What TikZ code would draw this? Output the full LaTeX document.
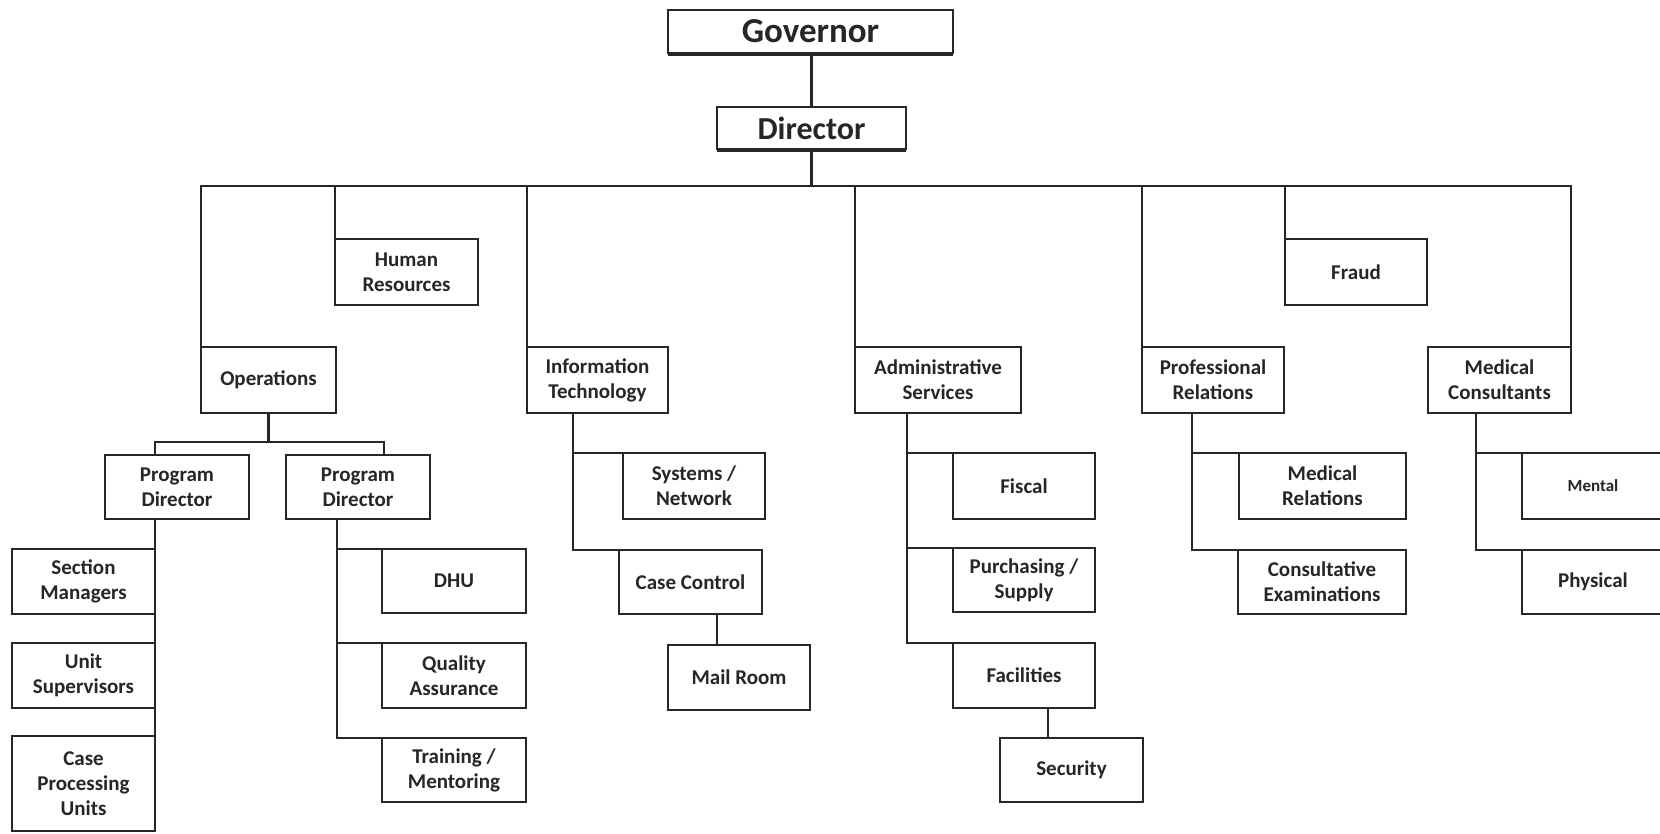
\documentclass[tikz,border=0pt]{standalone}
\usepackage{fontspec}
\setmainfont{Carlito}
\begin{document}
\begin{tikzpicture}[x=1pt,y=-1pt,
  box/.style={draw=black!85,line width=2.8pt,fill=white,inner sep=0pt,outer sep=0pt,align=center,
    font=\bfseries\fontsize{21}{25}\selectfont,text=black!85},
  bigbox/.style={box,font=\bfseries\fontsize{35}{40}\selectfont},
  smallbox/.style={box,font=\bfseries\fontsize{17}{21}\selectfont},
  conn/.style={draw=black!85,line width=2.6pt},
  shade/.style={draw=black!85,line width=3.2pt}]
\useasboundingbox (0,0) rectangle (1660,833);
\clip (0,0) rectangle (1660,833);
% top
\node[bigbox,minimum width=285pt,minimum height=43pt] (gov) at (810.5,31.5) {Governor};
\node[bigbox,minimum width=189pt,minimum height=42pt,font=\bfseries\fontsize{32}{38}\selectfont] (dir) at (811.5,128) {Director};
\draw[shade] ([yshift=-1.5pt]gov.south west) -- ([yshift=-1.5pt]gov.south east);
\draw[shade] ([yshift=-1.5pt]dir.south west) -- ([yshift=-1.5pt]dir.south east);
% second level
\node[box,minimum width=143pt,minimum height=66pt] (hr) at (406.5,272) {Human\\Resources};
\node[box,minimum width=135pt,minimum height=66pt] (ops) at (268.5,380) {Operations};
\node[box,minimum width=141pt,minimum height=66pt] (it) at (597.5,380) {Information\\Technology};
\node[box,minimum width=166pt,minimum height=66pt] (adm) at (938,380) {Administrative\\Services};
\node[box,minimum width=142pt,minimum height=66pt] (pr) at (1213,380) {Professional\\Relations};
\node[box,minimum width=142pt,minimum height=66pt] (fraud) at (1356,272) {Fraud};
\node[box,minimum width=143pt,minimum height=66pt] (mc) at (1499.5,380) {Medical\\Consultants};
% operations
\node[box,minimum width=144pt,minimum height=64pt] (pd1) at (177,487) {Program\\Director};
\node[box,minimum width=144pt,minimum height=64pt] (pd2) at (358,487) {Program\\Director};
\node[box,minimum width=143pt,minimum height=65pt] (sm) at (83.5,581.5) {Section\\Managers};
\node[box,minimum width=143pt,minimum height=65pt] (us) at (83.5,675.5) {Unit\\Supervisors};
\node[box,minimum width=143pt,minimum height=95pt] (cpu) at (83.5,783.5) {Case\\Processing\\Units};
\node[box,minimum width=144pt,minimum height=64pt] (dhu) at (454,581) {DHU};
\node[box,minimum width=144pt,minimum height=65pt] (qa) at (454,675.5) {Quality\\Assurance};
\node[box,minimum width=144pt,minimum height=64pt] (tm) at (454,770) {Training /\\Mentoring};
% IT
\node[box,minimum width=142pt,minimum height=66pt] (sn) at (694,486) {Systems /\\Network};
\node[box,minimum width=143pt,minimum height=64pt] (cc) at (690.5,582) {Case Control};
\node[box,minimum width=142pt,minimum height=65pt] (mr) at (739,677.5) {Mail Room};
% admin
\node[box,minimum width=142pt,minimum height=66pt] (fis) at (1024,486) {Fiscal};
\node[box,minimum width=142pt,minimum height=64pt] (pur) at (1024,580) {Purchasing /\\Supply};
\node[box,minimum width=142pt,minimum height=65pt] (fac) at (1024,675.5) {Facilities};
\node[box,minimum width=143pt,minimum height=64pt] (sec) at (1071.5,770) {Security};
% professional relations
\node[box,minimum width=167pt,minimum height=66pt] (medrel) at (1322.5,486) {Medical\\Relations};
\node[box,minimum width=168pt,minimum height=64pt] (ce) at (1322,582) {Consultative\\Examinations};
% medical consultants
\node[smallbox,minimum width=142pt,minimum height=66pt] (mental) at (1593,486) {Mental};
\node[box,minimum width=142pt,minimum height=64pt] (phys) at (1593,582) {Physical};
% connector points
\coordinate (bus) at (811.5,186);
\coordinate (opsbar) at (268.5,442);
\coordinate (pd1in) at (155,455);
\coordinate (pd2in) at (384,455);
\coordinate (pd1s) at (155,519);
\coordinate (pd2s) at (337,519);
\coordinate (its) at (573,413);
\coordinate (ccs) at (717,614);
\coordinate (adms) at (907,413);
\coordinate (facs) at (1048,708);
\coordinate (prs) at (1192,413);
\coordinate (mcs) at (1476,413);
% connectors
\draw[conn] (gov.south) -- (dir.south |- gov.south) -- (dir.north);
\draw[conn] (dir.south) -- (bus);
\draw[conn] (ops.north west) |- (bus) -| (mc.north east);
\draw[conn] (hr.north west) -- (hr.north west |- bus);
\draw[conn] (it.north west) -- (it.north west |- bus);
\draw[conn] (adm.north west) -- (adm.north west |- bus);
\draw[conn] (pr.north west) -- (pr.north west |- bus);
\draw[conn] (fraud.north west) -- (fraud.north west |- bus);
\draw[conn] (ops.south) -- (opsbar);
\draw[conn] (pd1in) |- (opsbar) -| (pd2in);
\draw[conn] (pd1s) -- (cpu.north east);
\draw[conn] (pd2s) |- (tm.north west);
\draw[conn] (pd2s |- dhu.north west) -- (dhu.north west);
\draw[conn] (pd2s |- qa.north west) -- (qa.north west);
\draw[conn] (its) |- (cc.north west);
\draw[conn] (its |- sn.north west) -- (sn.north west);
\draw[conn] (ccs) -- (ccs |- mr.north);
\draw[conn] (adms) |- (fac.north west);
\draw[conn] (adms |- fis.north west) -- (fis.north west);
\draw[conn] (adms |- pur.north west) -- (pur.north west);
\draw[conn] (facs) -- (facs |- sec.north);
\draw[conn] (prs) |- (ce.north west);
\draw[conn] (prs |- medrel.north west) -- (medrel.north west);
\draw[conn] (mcs) |- (phys.north west);
\draw[conn] (mcs |- mental.north west) -- (mental.north west);
\end{tikzpicture}
\end{document}
